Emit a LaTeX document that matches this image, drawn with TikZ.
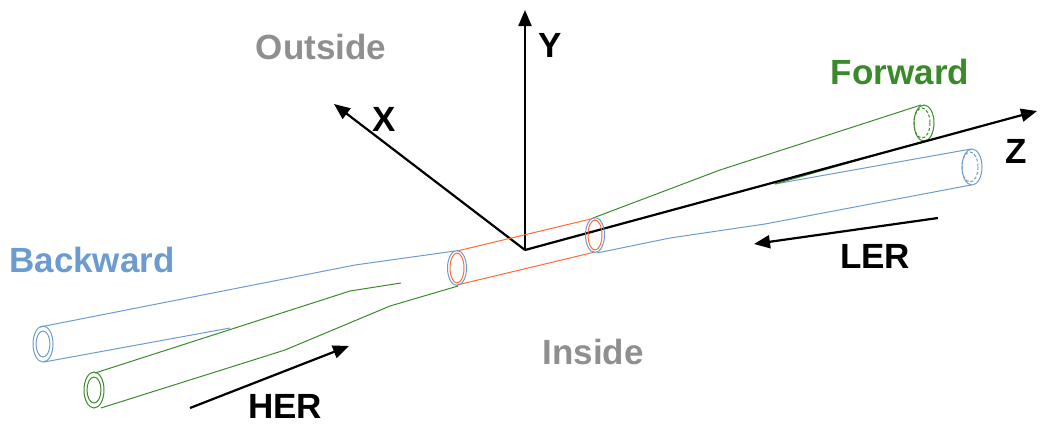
\documentclass[tikz,border=0pt]{standalone}
\usepackage{fontspec}
\setmainfont{Liberation Sans}
\usetikzlibrary{arrows.meta}
\definecolor{bl}{HTML}{6C9BCF}
\definecolor{gr}{HTML}{3A8A2A}
\definecolor{orr}{HTML}{FF6A33}
\definecolor{gy}{HTML}{8F8F8F}
\begin{document}
\begin{tikzpicture}[x=1pt,y=-1pt,
  ax/.style={line width=2.2pt,-{Triangle[length=16pt,width=13pt]}},
  lab/.style={font=\fontsize{35}{37}\selectfont\bfseries},
  tb/.style={line width=1pt}]
\useasboundingbox (0,0) rectangle (1054,434);
% axes
\coordinate (O) at (525,250);
\coordinate (Y) at (525,10);
\coordinate (X) at (334,104);
\coordinate (Z) at (1037,111);
\draw[ax] (O) -- (Y);
\draw[ax] (O) -- (X);
\node[lab] (ly) at (550,45) {Y};
\node[lab] (lx) at (384,119) {X};
\node[lab] (lz) at (1016,151) {Z};
% orange central tube
\draw[orr,tb] (457,251) -- (595,218);
\draw[orr,tb] (457,285) -- (595,252);
% blue LER right
\draw[bl,tb] (597,253) -- (670,238) -- (765,224) -- (971,185);
\draw[bl,tb] (775,184) -- (971,149);
\draw[bl,tb] (972,167) ellipse (10 and 18);
\draw[bl,tb,densely dashed] (970,167) ellipse (8 and 15);
% green right
\draw[gr,tb] (593,218) -- (720,170) -- (921,105);
\draw[gr,tb] (775,184) -- (925,141);
\draw[gr,tb] (924,123) ellipse (10 and 18);
\draw[gr,tb,densely dashed] (922,123) ellipse (8 and 15);
% Z axis over tubes
\draw[ax] (O) -- (Z);
% left blue
\draw[bl,tb] (455,251) -- (355,265) -- (40,327);
\draw[bl,tb] (44,362) -- (230,328);
\draw[bl,tb] (43,344) ellipse (10 and 18);
\draw[bl,tb] (43,344) ellipse (7 and 13);
% left green
\draw[gr,tb] (95,373) -- (350,291) -- (401,283);
\draw[gr,tb] (101,408) -- (285,350) -- (390,306) -- (458,286);
\draw[gr,tb] (94,390) ellipse (10 and 18);
\draw[gr,tb] (94,390) ellipse (7 and 13);
% ring ellipses at IP
\draw[bl,tb] (457,268) ellipse (9.5 and 17.5);
\draw[orr,tb] (457,268) ellipse (7 and 15);
\draw[bl,tb] (595,235) ellipse (9.5 and 17.5);
\draw[orr,tb] (595,235) ellipse (7 and 15);
% beam arrows
\coordinate (h1) at (190,408); \coordinate (h2) at (349,346);
\coordinate (l1) at (938,218); \coordinate (l2) at (754,244);
\draw[ax] (h1) -- (h2);
\draw[ax] (l1) -- (l2);
\node[lab] (her) at (285,406) {HER};
\node[lab] (ler) at (875,256) {LER};
\node[lab,gy] (out) at (321,47) {Outside};
\node[lab,gy] (ins) at (593,352) {Inside};
\node[lab,bl] (bw) at (92,260) {Backward};
\node[lab,gr] (fw) at (900,72) {Forward};
\end{tikzpicture}
\end{document}
